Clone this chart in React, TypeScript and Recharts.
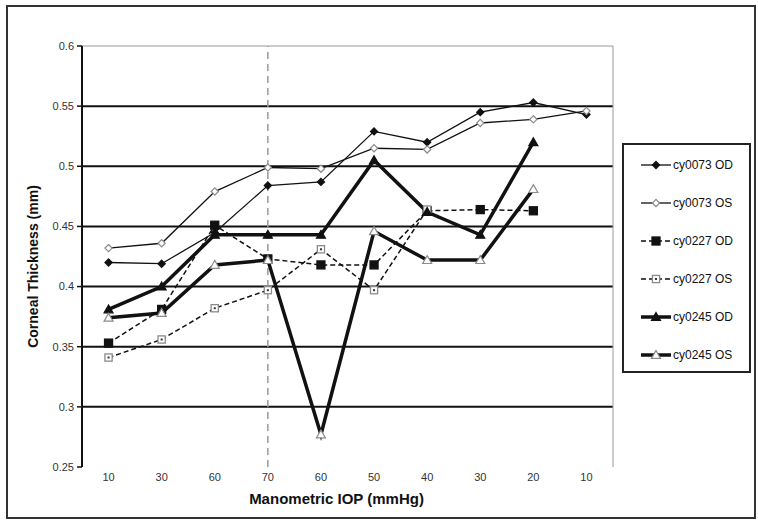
import React from 'react';
import {
  LineChart,
  Line,
  XAxis,
  YAxis,
  CartesianGrid,
  ReferenceLine,
  Legend,
} from 'recharts';

const categories = ['10', '30', '60', '70', '60', '50', '40', '30', '20', '10'];
const cy0073OD = [0.42, 0.419, 0.445, 0.484, 0.487, 0.529, 0.52, 0.545, 0.553, 0.543];
const cy0073OS = [0.432, 0.436, 0.479, 0.499, 0.498, 0.515, 0.514, 0.536, 0.539, 0.546];
const cy0227OD = [0.353, 0.381, 0.451, 0.423, 0.418, 0.418, 0.463, 0.464, 0.463, null];
const cy0227OS = [0.341, 0.356, 0.382, 0.397, 0.431, 0.397, 0.464, null, null, null];
const cy0245OD = [0.381, 0.4, 0.443, 0.443, 0.443, 0.505, 0.462, 0.443, 0.52, null];
const cy0245OS = [0.374, 0.378, 0.418, 0.422, 0.277, 0.446, 0.422, 0.422, 0.481, null];

const yTicks = [0.25, 0.3, 0.35, 0.4, 0.45, 0.5, 0.55, 0.6];
const gridValues = [0.3, 0.35, 0.4, 0.45, 0.5, 0.55];
const catTicks = categories.map((_, i) => i);
const edgeTicks = [...catTicks.map((i) => i - 0.5), categories.length - 0.5];
const markerLine = 3; // the 70 mmHg turning point

const data = categories.map((c, i) => ({
  idx: i,
  cat: c,
  cy0073OD: cy0073OD[i],
  cy0073OS: cy0073OS[i],
  cy0227OD: cy0227OD[i],
  cy0227OS: cy0227OS[i],
  cy0245OD: cy0245OD[i],
  cy0245OS: cy0245OS[i],
}));

type Shape = 'diamond' | 'square' | 'triangle';

const series: {
  key: string;
  name: string;
  shape: Shape;
  filled: boolean;
  width: number;
  dash?: string;
}[] = [
  { key: 'cy0073OD', name: 'cy0073 OD', shape: 'diamond', filled: true, width: 1.3 },
  { key: 'cy0073OS', name: 'cy0073 OS', shape: 'diamond', filled: false, width: 1.3 },
  { key: 'cy0227OD', name: 'cy0227 OD', shape: 'square', filled: true, width: 1.5, dash: '5 3' },
  { key: 'cy0227OS', name: 'cy0227 OS', shape: 'square', filled: false, width: 1.5, dash: '5 3' },
  { key: 'cy0245OD', name: 'cy0245 OD', shape: 'triangle', filled: true, width: 3.5 },
  { key: 'cy0245OS', name: 'cy0245 OS', shape: 'triangle', filled: false, width: 3.5 },
];

const FONT = '"Liberation Sans", Arial, sans-serif';

function marker(shape: Shape, filled: boolean, cx: number, cy: number) {
  const fill = filled ? '#111' : '#fff';
  const stroke = filled ? '#111' : '#8a8a8a';
  if (shape === 'diamond') {
    const r = 3.6;
    return (
      <polygon
        points={`${cx},${cy - r} ${cx + r},${cy} ${cx},${cy + r} ${cx - r},${cy}`}
        fill={fill}
        stroke={stroke}
        strokeWidth={1.2}
      />
    );
  }
  if (shape === 'square') {
    const r = filled ? 4 : 3.6;
    return (
      <g>
        <rect x={cx - r} y={cy - r} width={r * 2} height={r * 2} fill={fill} stroke={stroke} strokeWidth={1.3} />
        {!filled && <rect x={cx - 1} y={cy - 1} width={2} height={2} fill="#333" />}
      </g>
    );
  }
  const r = 4.5;
  return (
    <polygon
      points={`${cx},${cy - r} ${cx + r},${cy + r * 0.75} ${cx - r},${cy + r * 0.75}`}
      fill={fill}
      stroke={stroke}
      strokeWidth={1.2}
    />
  );
}

const makeDot = (shape: Shape, filled: boolean) => (props: any) => {
  const { cx, cy, index, value } = props;
  if (cx == null || cy == null || value == null) return <g key={index} />;
  return <g key={index}>{marker(shape, filled, cx, cy)}</g>;
};

function LegendBox(props: any) {
  const payload = props.payload || [];
  return (
    <div
      style={{
        width: 125,
        height: 225,
        border: '2px solid #222',
        background: '#fff',
        boxSizing: 'content-box',
        fontFamily: FONT,
        fontSize: 12,
        color: '#111',
        paddingTop: 1,
      }}
    >
      {payload.map((p: any) => {
        const s = series.find((x) => x.key === p.dataKey) || series[0];
        return (
          <div key={s.key} style={{ display: 'flex', alignItems: 'center', height: 38, paddingLeft: 16 }}>
            <svg width={32} height={14} style={{ display: 'block' }}>
              <line x1={1} y1={7} x2={31} y2={7} stroke="#111" strokeWidth={s.width} strokeDasharray={s.dash} />
              {marker(s.shape, s.filled, 16, 7)}
            </svg>
            <span style={{ marginLeft: 1 }}>{p.value}</span>
          </div>
        );
      })}
    </div>
  );
}

export default function App() {
  return (
    <div style={{ position: 'absolute', left: 0, top: 0, width: 758, height: 521, background: '#fff' }}>
      <div
        style={{
          position: 'absolute',
          left: 6,
          top: 5,
          width: 746,
          height: 510,
          border: '2px solid #333',
        }}
      />
      <div style={{ position: 'absolute', left: 0, top: 0 }}>
        <LineChart
          width={758}
          height={521}
          data={data}
          margin={{ top: 46, right: 145, bottom: 4, left: 20 }}
          style={{ fontFamily: FONT }}
        >
          <CartesianGrid vertical={false} horizontalValues={gridValues} stroke="#111" strokeWidth={2} />
          <XAxis
            xAxisId="edge"
            dataKey="idx"
            type="number"
            domain={[-0.5, categories.length - 0.5]}
            ticks={edgeTicks}
            interval={0}
            tickFormatter={() => ''}
            height={0}
            tickSize={5}
            axisLine={{ stroke: '#111', strokeWidth: 2 }}
            tickLine={{ stroke: '#111', strokeWidth: 1.5 }}
          />
          <XAxis
            dataKey="idx"
            type="number"
            domain={[-0.5, categories.length - 0.5]}
            ticks={catTicks}
            interval={0}
            tickFormatter={(i: number) => categories[i] ?? ''}
            height={50}
            axisLine={false}
            tickLine={false}
            tickSize={0}
            tickMargin={6}
            tick={{ fill: '#333', fontSize: 11 }}
            label={{
              value: 'Manometric IOP (mmHg)',
              position: 'insideBottom',
              offset: 13,
              dx: -11,
              style: { fontSize: 15, fontWeight: 'bold', fill: '#111' },
            }}
          />
          <YAxis
            type="number"
            domain={[0.25, 0.6]}
            ticks={yTicks}
            interval={0}
            width={62}
            tickSize={5}
            tickMargin={3}
            tickFormatter={(v: number) => String(Number(v.toFixed(2)))}
            axisLine={{ stroke: '#111', strokeWidth: 2 }}
            tickLine={{ stroke: '#111', strokeWidth: 1.5 }}
            tick={{ fill: '#333', fontSize: 11 }}
            label={{
              value: 'Corneal Thickness (mm)',
              angle: -90,
              position: 'center',
              dx: -18,
              dy: 10,
              style: { fontSize: 14, fontWeight: 'bold', fill: '#111' },
            }}
          />
          <ReferenceLine y={0.6} stroke="#999" strokeWidth={1} />
          <ReferenceLine x={categories.length - 0.5} stroke="#999" strokeWidth={1} />
          <ReferenceLine x={markerLine} stroke="#999" strokeWidth={1.5} strokeDasharray="7 5" />
          {series.map((s) => (
            <Line
              key={s.key}
              dataKey={s.key}
              name={s.name}
              stroke="#111"
              strokeWidth={s.width}
              strokeDasharray={s.dash}
              dot={makeDot(s.shape, s.filled)}
              activeDot={false}
              isAnimationActive={false}
            />
          ))}
          <Legend
            layout="vertical"
            align="center"
            verticalAlign="middle"
            content={<LegendBox />}
            wrapperStyle={{ left: 622, top: 143, width: 129, height: 229 }}
          />
        </LineChart>
      </div>
    </div>
  );
}
